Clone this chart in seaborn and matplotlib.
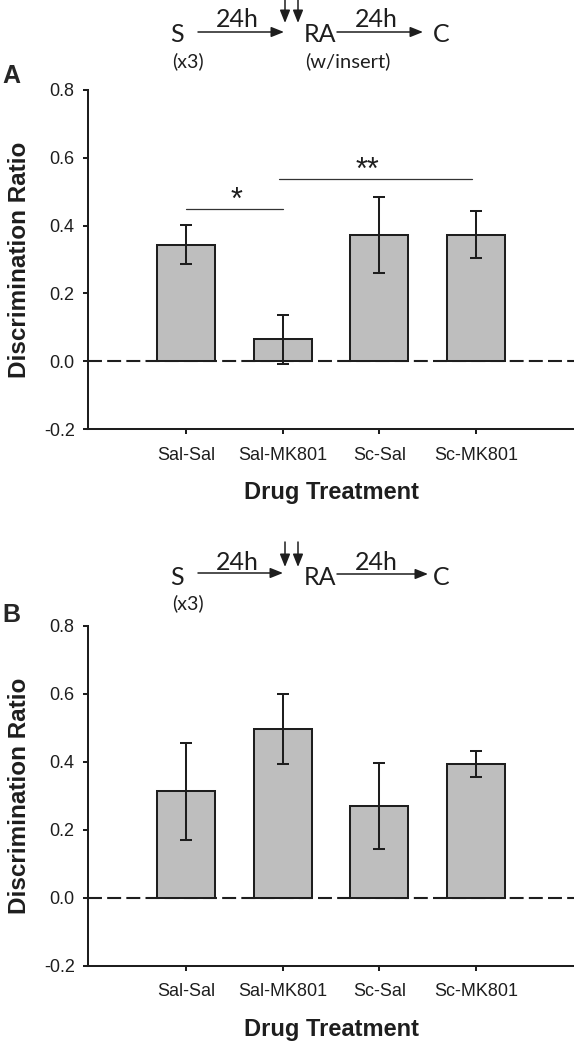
import numpy as np
import matplotlib
matplotlib.use("Agg")
import matplotlib.pyplot as plt
from matplotlib.patches import FancyArrowPatch
import seaborn as sns

# ---------------- data ----------------
categories = ["Sal-Sal", "Sal-MK801", "Sc-Sal", "Sc-MK801"]
values_a = [0.344, 0.065, 0.371, 0.373]
errors_a = [0.058, 0.072, 0.112, 0.070]
values_b = [0.314, 0.498, 0.271, 0.394]
errors_b = [0.143, 0.103, 0.127, 0.037]
yticks = [-0.2, 0.0, 0.2, 0.4, 0.6, 0.8]
# significance brackets for panel A: (x_start, x_end, y, label, label_x)
sig_a = [(0.0, 1.0, 0.448, "*", 0.52), (0.96, 2.96, 0.537, "**", 1.88)]

# ---------------- style ----------------
sns.set_style("ticks")
plt.rcParams["font.family"] = ["Liberation Sans", "DejaVu Sans"]
plt.rcParams["axes.unicode_minus"] = False

W, H = 574, 1041
fig = plt.figure(figsize=(W / 100, H / 100), dpi=100)


def P(x, y):
    return (x / W, 1 - y / H)


BAR = "#bebebe"
LW = 1.45
INK = "#1e1e1e"


def panel(rect, values, errors, sig=None):
    ax = fig.add_axes(rect)
    sns.barplot(x=categories, y=values, color=BAR, saturation=1, width=0.6,
                edgecolor=INK, linewidth=LW, ax=ax, zorder=3)
    ax.errorbar(np.arange(len(categories)), values, yerr=errors, fmt="none",
                ecolor=INK, elinewidth=LW, capsize=4.5, capthick=LW, zorder=4)
    ax.axhline(0, color=INK, lw=1.5, ls=(0, (6.7, 2.5)), zorder=2)
    ax.set_xlim(-1.01, 4.01)
    ax.set_ylim(-0.2, 0.8)
    ax.set_yticks(yticks)
    ax.set_yticklabels([f"{t:.1f}" for t in yticks])
    for s in ["top", "right"]:
        ax.spines[s].set_visible(False)
    for s in ["left", "bottom"]:
        ax.spines[s].set_linewidth(LW)
        ax.spines[s].set_color(INK)
    ax.tick_params(axis="both", direction="out", length=3.6, width=LW,
                   color=INK, labelsize=13, labelcolor=INK)
    ax.tick_params(axis="y", pad=6)
    ax.tick_params(axis="x", pad=9)
    ax.set_xlabel("Drug Treatment", fontsize=17, fontweight="bold",
                  labelpad=12.5, color=INK)
    ax.set_ylabel("Discrimination Ratio", fontsize=17.5, fontweight="bold",
                  labelpad=9, color=INK)
    if sig:
        for x0, x1, y, lab, lx in sig:
            ax.plot([x0, x1], [y, y], color="#333333", lw=0.9, zorder=5)
            ax.text(lx, y + 0.0, lab, ha="center", va="baseline",
                    fontsize=22, color=INK)
    return ax


axA = panel([88 / W, 1 - 429 / H, 1 - 88 / W, 339 / H], values_a, errors_a, sig_a)
axB = panel([88 / W, 1 - 966 / H, 1 - 88 / W, 340 / H], values_b, errors_b)

# panel letters
fig.text(*P(2, 83), "A", fontsize=18, fontweight="bold", ha="left", va="baseline")
fig.text(*P(2, 622), "B", fontsize=18, fontweight="bold", ha="left", va="baseline")

# ---------------- schematics ----------------
SF = ["Lato", "DejaVu Sans"]


def txt(x, y, s, size=18):
    fig.text(*P(x, y), s, ha="center", va="baseline", fontsize=size,
             family=SF, color=INK)


def arrow(x0, y0, x1, y1):
    a = FancyArrowPatch(P(x0, y0), P(x1, y1), transform=fig.transFigure,
                        arrowstyle="-|>,head_length=0.55,head_width=0.22",
                        mutation_scale=14, lw=1.1, color=INK,
                        shrinkA=0, shrinkB=0)
    fig.add_artist(a)


# panel A schematic
txt(177, 42, "S")
txt(237, 27, "24h")
txt(320, 42, "RA")
txt(376, 27, "24h")
txt(441, 42, "C")
txt(188, 67, "(x3)", 14)
txt(348, 67, "(w/insert)", 14.5)
arrow(198, 32, 284, 32)
arrow(337, 32, 423, 32)
arrow(285, -2, 285, 23)
arrow(298, -2, 298, 23)

# panel B schematic
txt(177, 585, "S")
txt(237, 570, "24h")
txt(320, 585, "RA")
txt(376, 570, "24h")
txt(441, 585, "C")
txt(188, 609, "(x3)", 14)
arrow(198, 573, 283, 573)
arrow(337, 574, 428, 574)
arrow(285, 542, 285, 567)
arrow(298, 542, 298, 567)

fig.savefig("out.png", dpi=100)
